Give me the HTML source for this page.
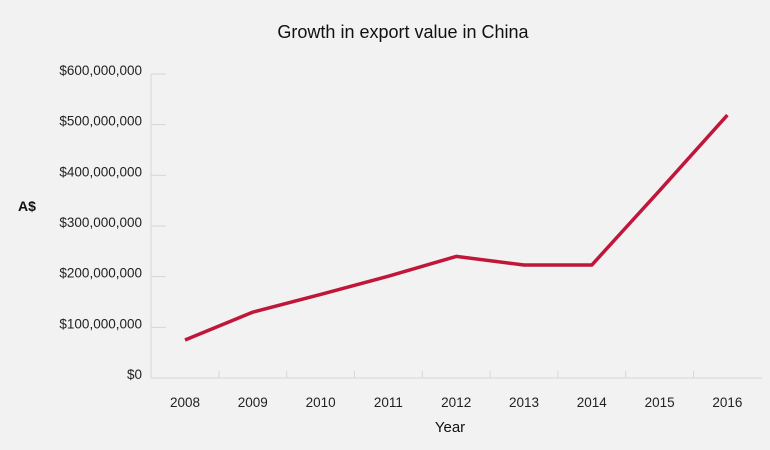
<!DOCTYPE html>
<html><head><meta charset="utf-8"><style>
body{margin:0;background:#f2f2f2;}
svg{display:block;font-family:"Liberation Sans",sans-serif;}
</style></head><body>
<svg width="770" height="450">
<rect width="770" height="450" fill="#f2f2f2"/>
<text x="403" y="38" text-anchor="middle" font-size="18" fill="#111">Growth in export value in China</text>
<text x="18" y="211" font-size="14" font-weight="bold" fill="#111">A$</text>
<text x="450" y="432" text-anchor="middle" font-size="15" fill="#111">Year</text>
<g id="axes"></g>
<path id="series" fill="none" stroke="#c0163a" stroke-width="3.5" stroke-linejoin="round"/>
</svg>
<script>
const years=["2008","2009","2010","2011","2012","2013","2014","2015","2016"];
const values=[75e6,130e6,165e6,201e6,240e6,223e6,223e6,370e6,519e6];
const yTicks=[0,1e8,2e8,3e8,4e8,5e8,6e8];
const yTickLabels=["$0","$100,000,000","$200,000,000","$300,000,000","$400,000,000","$500,000,000","$600,000,000"];
const NS="http://www.w3.org/2000/svg";
const x0=151,y0=378,yTop=74,step=67.8;
const y=v=>y0-(v/6e8)*(y0-yTop);
const x=i=>185+i*step;
const g=document.getElementById('axes');
function mk(t,a){const e=document.createElementNS(NS,t);for(const k in a)e.setAttribute(k,a[k]);g.appendChild(e);return e;}
const ax=mk('line',{x1:x0,y1:yTop,x2:x0,y2:y0,stroke:'#d6d6d6','stroke-width':1});


const bx=mk('line',{x1:x0,y1:y0,x2:762,y2:y0,stroke:'#d6d6d6','stroke-width':1});


yTicks.forEach((v,i)=>{
  if(v>0){const t=mk('line',{x1:x0,y1:y(v),x2:x0+15,y2:y(v),stroke:'#d6d6d6','stroke-width':1});
  
  }
  const l=mk('text',{x:142,y:y(v)-(v===0?4:4)+5,'text-anchor':'end','font-size':13.5,fill:'#222'});
  l.textContent=yTickLabels[i];
  
  
});
years.forEach((yr,i)=>{
  if(i<years.length-1){const t=mk('line',{x1:x(i)+step/2,y1:y0-7,x2:x(i)+step/2,y2:y0,stroke:'#d6d6d6','stroke-width':1});
  
  }
  const l=mk('text',{x:x(i),y:407,'text-anchor':'middle','font-size':13.5,fill:'#222'});
  l.textContent=yr;
  
  
});
document.getElementById('series').setAttribute('d',values.map((v,i)=>(i?'L':'M')+x(i)+','+y(v)).join(''));
</script>
</body></html>
